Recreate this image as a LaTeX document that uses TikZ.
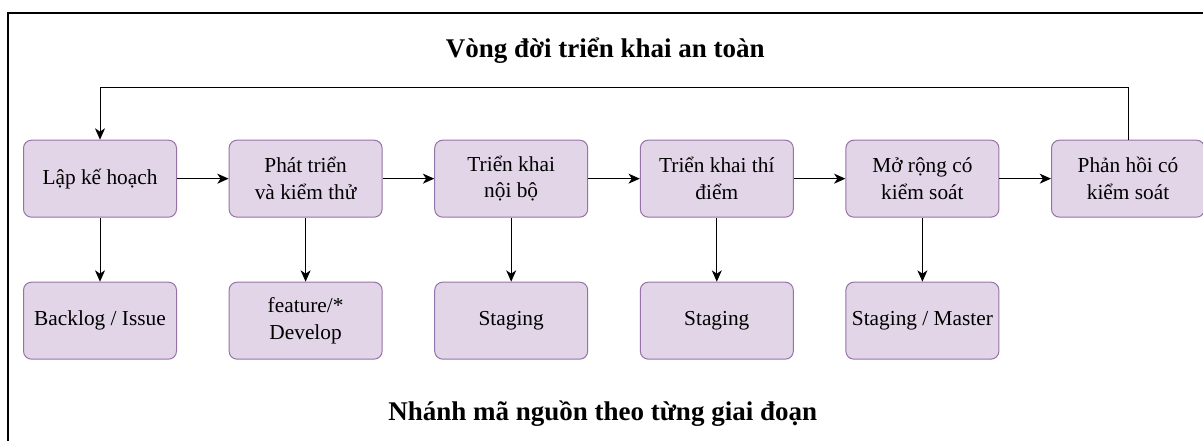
\documentclass[tikz,border=0pt]{standalone}
\usepackage{fontspec}
\setmainfont{Liberation Serif}
\usepackage{xcolor}
\usepackage{tikz}
\usetikzlibrary{positioning}
\usetikzlibrary{arrows.meta}
\definecolor{stagefill}{HTML}{E1D5E7}
\definecolor{stagedraw}{HTML}{9673A6}
\tikzstyle{stage} = [rectangle, rounded corners=6pt, minimum width=114.75pt, minimum height=57.75pt, align=center, font=\rmfamily\fontsize{16}{20}\selectfont, fill=stagefill, draw=stagedraw, line width=0.75pt]
\tikzstyle{heading} = [font=\rmfamily\fontsize{20.25}{24}\selectfont\bfseries]
\tikzstyle{arrow} = [line width=0.75pt,-{Stealth[length=8.5pt,width=7.5pt,inset=2.5pt]}]

\begin{document}
\begin{tikzpicture}
    \useasboundingbox (0,0) rectangle (902.25pt,-330.75pt);
    \draw[line width=1.5pt] (6.2pt,-330.75pt) |- (902.25pt,-9.5pt);

    \node[heading] (title) at (454pt,-38pt) {Vòng đời triển khai an toàn};
    \node[heading] (branches) at (452pt,-310pt) {Nhánh mã nguồn theo từng giai đoạn};

    % vong doi
    \node[stage] (plan) at (75pt,-134pt) {Lập kế hoạch};
    \node[stage, right=38.7pt of plan] (dev) {Phát triển\\và kiểm thử};
    \node[stage, right=38.7pt of dev] (internal) {Triển khai\\nội bộ};
    \node[stage, right=38.7pt of internal] (pilot) {Triển khai thí\\điểm};
    \node[stage, right=38.7pt of pilot] (rollout) {Mở rộng có\\kiểm soát};
    \node[stage, right=38.7pt of rollout] (feedback) {Phản hồi có\\kiểm soát};

    % nhanh ma nguon
    \node[stage, below=48pt of plan] (backlog) {Backlog / Issue};
    \node[stage, below=48pt of dev] (feature) {feature/*\\Develop};
    \node[stage, below=48pt of internal] (staginga) {Staging};
    \node[stage, below=48pt of pilot] (stagingb) {Staging};
    \node[stage, below=48pt of rollout] (master) {Staging / Master};

    \draw[arrow] (plan) -- (dev);
    \draw[arrow] (dev) -- (internal);
    \draw[arrow] (internal) -- (pilot);
    \draw[arrow] (pilot) -- (rollout);
    \draw[arrow] (rollout) -- (feedback);
    \draw[arrow] (feedback.north) -- ++(0,38.8pt) -| (plan.north);

    \draw[arrow] (plan) -- (backlog);
    \draw[arrow] (dev) -- (feature);
    \draw[arrow] (internal) -- (staginga);
    \draw[arrow] (pilot) -- (stagingb);
    \draw[arrow] (rollout) -- (master);
\end{tikzpicture}
\end{document}
